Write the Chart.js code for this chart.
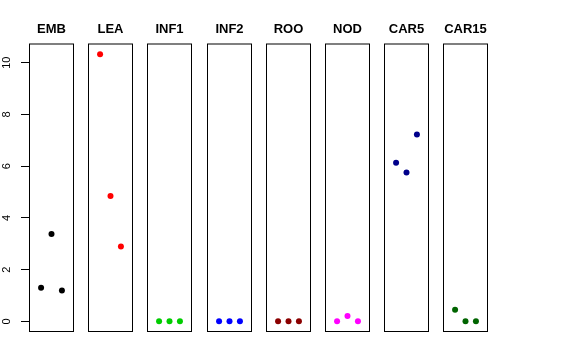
<!DOCTYPE html>
<html>
<head>
<meta charset="utf-8">
<script src="https://cdn.jsdelivr.net/npm/chart.js@4/dist/chart.umd.min.js"></script>
<style>
  html, body { margin: 0; padding: 0; background: #fff; }
  #wrap { position: relative; width: 576px; height: 360px; overflow: hidden; background: #fff; }
  #wrap canvas { position: absolute; }
</style>
</head>
<body>
<div id="wrap"></div>
<script>
// ---- data ----
const panels = ['EMB', 'LEA', 'INF1', 'INF2', 'ROO', 'NOD', 'CAR5', 'CAR15'];
const xPositions = [1, 2, 3];
const EMB   = [1.30, 3.38, 1.19];
const LEA   = [10.33, 4.85, 2.89];
const INF1  = [0, 0, 0];
const INF2  = [0, 0, 0];
const ROO   = [0, 0, 0];
const NOD   = [0, 0.21, 0];
const CAR5  = [6.13, 5.75, 7.22];
const CAR15 = [0.45, 0, 0];
const yTicks = [0, 2, 4, 6, 8, 10];
const seriesValues = [EMB, LEA, INF1, INF2, ROO, NOD, CAR5, CAR15];
const colors = ['#000000', '#FF0000', '#00CD00', '#0000FF', '#8B0000', '#FF00FF', '#00008B', '#006400'];

// ---- layout ----
const boxLefts = [29, 88, 147, 207, 266, 325, 384, 443];
const boxWidth = 45;
const axisWidth = 29;
const canvasTop = 18;
const canvasHeight = 314;
const Y_MIN = -0.413, Y_MAX = 10.743;
const X_MIN = -0.16, X_MAX = 4.16;

const boxPlugin = {
  id: 'box',
  afterDraw(chart) {
    const { ctx, chartArea: { left, top, right, bottom } } = chart;
    ctx.save();
    ctx.strokeStyle = '#000';
    ctx.lineWidth = 1;
    ctx.strokeRect(left + 0.5, top + 0.5, right - left - 1, bottom - top - 1);
    ctx.restore();
  }
};

const wrap = document.getElementById('wrap');
panels.forEach((name, i) => {
  const hasAxis = i === 0;
  const cv = document.createElement('canvas');
  const w = boxWidth + (hasAxis ? 2 * axisWidth : 0);
  cv.width = w;
  cv.height = canvasHeight;
  cv.style.width = w + 'px';
  cv.style.height = canvasHeight + 'px';
  cv.style.left = (boxLefts[i] - (hasAxis ? axisWidth : 0)) + 'px';
  cv.style.top = canvasTop + 'px';
  wrap.appendChild(cv);

  const scales = {
    x: {
      type: 'linear',
      display: false,
      min: X_MIN,
      max: X_MAX
    },
    y: {
      type: 'linear',
      display: hasAxis,
      position: 'left',
      min: Y_MIN,
      max: Y_MAX,
      afterBuildTicks: (s) => { s.ticks = yTicks.map(v => ({ value: v })); },
      grid: { display: true, drawOnChartArea: false, drawTicks: true, tickLength: 8, color: '#000', lineWidth: 1 },
      border: { display: false },
      ticks: {
        color: '#000',
        font: { family: 'Liberation Sans', size: 11 },
        minRotation: 90,
        maxRotation: 90,
        crossAlign: 'center',
        padding: 8
      }
    }
  };
  if (hasAxis) {
    scales.y.afterFit = (s) => { s.width = axisWidth; s.paddingTop = 0; s.paddingBottom = 0; };
    // empty right-hand spacer so the title is centred over the box
    scales.yRight = {
      type: 'linear',
      display: true,
      position: 'right',
      min: Y_MIN,
      max: Y_MAX,
      grid: { display: false, drawTicks: false },
      border: { display: false },
      ticks: { display: false },
      afterFit: (s) => { s.width = axisWidth; s.paddingTop = 0; s.paddingBottom = 0; }
    };
  }

  new Chart(cv, {
    type: 'scatter',
    data: {
      datasets: [{
        label: name,
        data: xPositions.map((x, j) => ({ x: x, y: seriesValues[i][j] })),
        backgroundColor: colors[i],
        borderColor: colors[i],
        borderWidth: 0,
        pointRadius: 3,
        pointHoverRadius: 3
      }]
    },
    options: {
      responsive: false,
      animation: false,
      devicePixelRatio: 1,
      layout: { padding: 0, autoPadding: false },
      plugins: {
        legend: { display: false },
        tooltip: { enabled: false },
        title: {
          display: true,
          text: name,
          color: '#000',
          font: { family: 'Liberation Sans', size: 13, weight: 'bold', lineHeight: 1.2 },
          padding: { top: 4, bottom: 5.9 }
        }
      },
      scales: scales
    },
    plugins: [boxPlugin]
  });
});
</script>
</body>
</html>
